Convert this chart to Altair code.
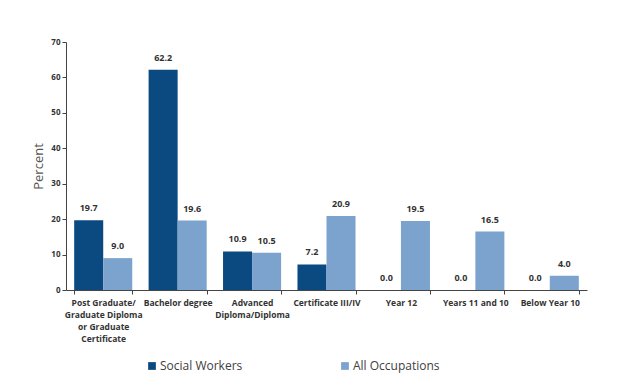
import altair as alt
import pandas as pd

categories = [
    "Post Graduate/|Graduate Diploma|or Graduate|Certificate",
    "Bachelor degree",
    "Advanced|Diploma/Diploma",
    "Certificate III/IV",
    "Year 12",
    "Years 11 and 10",
    "Below Year 10",
]
series = ["Social Workers", "All Occupations"]
social_workers = [19.7, 62.2, 10.9, 7.2, 0.0, 0.0, 0.0]
all_occupations = [9.0, 19.6, 10.5, 20.9, 19.5, 16.5, 4.0]
colors = ["#0b4a80", "#7ca3cd"]

rows = []
for i, c in enumerate(categories):
    rows.append({"cat": c, "series": series[0], "value": social_workers[i]})
    rows.append({"cat": c, "series": series[1], "value": all_occupations[i]})
df = pd.DataFrame(rows)

x = alt.X(
    "cat:N",
    sort=categories,
    scale=alt.Scale(paddingInner=0.22, paddingOuter=0.11),
    axis=alt.Axis(
        title=None,
        labelAngle=0,
        labelExpr="split(datum.label, '|')",
        labelFont="Open Sans",
        labelFontSize=8.5,
        labelFontWeight="bold",
        labelColor="#333333",
        labelLineHeight=12,
        labelPadding=4,
        tickBand="extent",
        tickSize=4,
        tickColor="#444444",
        domainColor="#444444",
        labelLimit=200,
    ),
)
xo = alt.XOffset("series:N", sort=series, scale=alt.Scale(paddingInner=0))
y = alt.Y(
    "value:Q",
    scale=alt.Scale(domain=[0, 70]),
    axis=alt.Axis(
        title="Percent",
        values=[0, 10, 20, 30, 40, 50, 60, 70],
        labelOverlap=False,
        grid=False,
        labelFont="Open Sans",
        labelFontSize=8,
        labelFontWeight="bold",
        labelColor="#333333",
        tickSize=4,
        tickColor="#444444",
        domainColor="#444444",
        titleFont="Open Sans",
        titleFontSize=13,
        titleFontWeight="normal",
        titleColor="#555555",
        titlePadding=5,
    ),
)

bars = alt.Chart(df).mark_bar().encode(
    x=x,
    xOffset=xo,
    y=y,
    color=alt.Color(
        "series:N",
        sort=series,
        scale=alt.Scale(domain=series, range=colors),
        legend=alt.Legend(
            title=None,
            orient="none",
            direction="horizontal",
            legendX=80,
            legendY=318,
            symbolType="square",
            symbolSize=60,
            symbolStrokeWidth=0,
            labelFont="Open Sans",
            labelFontSize=12,
            labelColor="#404040",
            columnPadding=96,
            labelOffset=2,
        ),
    ),
)

labels = alt.Chart(df).mark_text(
    baseline="bottom", dy=-7, font="Open Sans", fontSize=9, fontWeight="bold", color="#333333"
).encode(
    x=x,
    xOffset=xo,
    y=y,
    text=alt.Text("value:Q", format=".1f"),
)

chart = (
    alt.layer(bars, labels)
    .properties(
        width=521,
        height=248,
        autosize=alt.AutoSizeParams(type="none"),
        padding={"left": 58, "top": 34, "right": 41, "bottom": 86},
        background="white",
    )
    .configure_view(stroke=None)
)

chart.save("out.html", embed_options={"renderer": "svg", "actions": False})
